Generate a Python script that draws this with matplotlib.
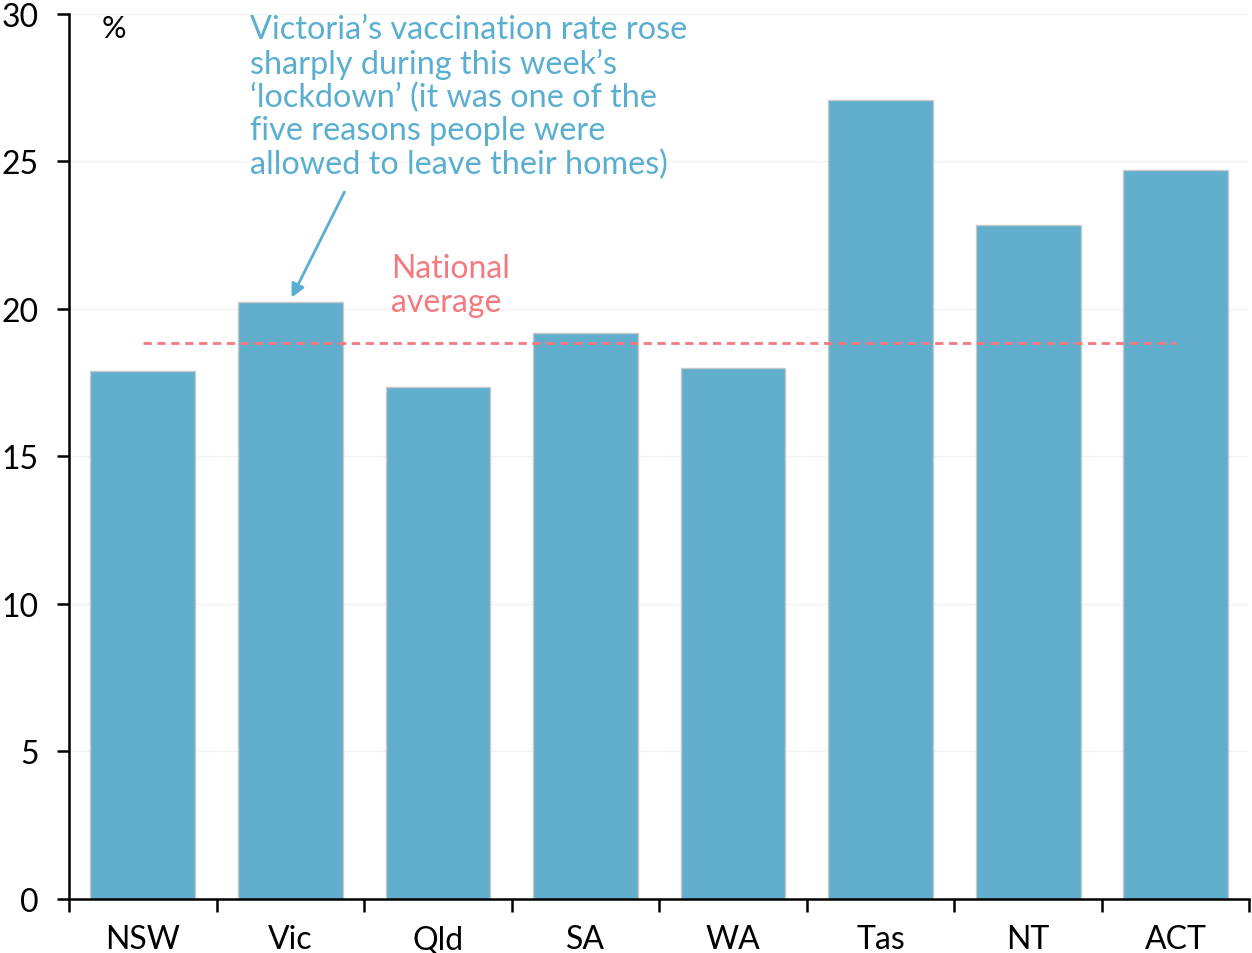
import matplotlib.pyplot as plt
import numpy as np

states = ['NSW', 'Vic', 'Qld', 'SA', 'WA', 'Tas', 'NT', 'ACT']
rates = [17.9, 20.25, 17.35, 19.2, 18.0, 27.1, 22.85, 24.7]
national_avg = 18.85
yticks = [0, 5, 10, 15, 20, 25, 30]

bar_col = '#62AECD'
note_col = '#5AAFD0'
avg_col = '#F47A80'

plt.rcParams['font.family'] = ['Lato', 'DejaVu Sans']

fig = plt.figure(figsize=(12.52, 9.54), dpi=100)
ax = fig.add_axes([0.0551, 0.0566, 0.9429, 0.9277])

x = np.arange(len(states))
ax.bar(x, rates, width=0.71, color=bar_col, edgecolor='#C8C8C8', linewidth=1, zorder=2)
ax.plot([x[0], x[-1]], [national_avg, national_avg], ls=(0, (3, 2)), color=avg_col, lw=2, zorder=3)

ax.set_xlim(-0.5, len(states) - 0.5)
ax.set_ylim(0, 30)
ax.set_yticks(yticks)
ax.yaxis.grid(True, color='#F2F2F2', lw=1, zorder=0)

ax.set_xticks(np.arange(len(states) + 1) - 0.5)
ax.set_xticklabels([])
ax.set_xticks(x, minor=True)
ax.set_xticklabels(states, minor=True)
ax.tick_params(axis='x', which='minor', length=0, pad=18, labelsize=23)
ax.tick_params(axis='x', which='major', length=9, width=1.8, direction='out')
ax.tick_params(axis='y', length=9, width=1.8, labelsize=23, pad=13)

for s in ['top', 'right']:
    ax.spines[s].set_visible(False)
for s in ['left', 'bottom']:
    ax.spines[s].set_linewidth(1.8)

ax.text(-0.28, 30.0, '%', fontsize=22, va='top', ha='left')

ax.text(0.726, 30.0,
        "Victoria\u2019s vaccination rate rose\nsharply during this week\u2019s\n"
        "\u2018lockdown\u2019 (it was one of the\nfive reasons people were\n"
        "allowed to leave their homes)",
        color=note_col, fontsize=23.3, va='top', ha='left', linespacing=1.13)
ax.annotate('', xy=(1.0, 20.3), xytext=(1.375, 24.05),
            arrowprops=dict(arrowstyle='-|>', color=note_col, lw=2, mutation_scale=20))

ax.text(1.68, 21.9, 'National\naverage', color=avg_col, fontsize=23,
        va='top', ha='left', linespacing=1.15)

fig.savefig('out.png', dpi=100)
